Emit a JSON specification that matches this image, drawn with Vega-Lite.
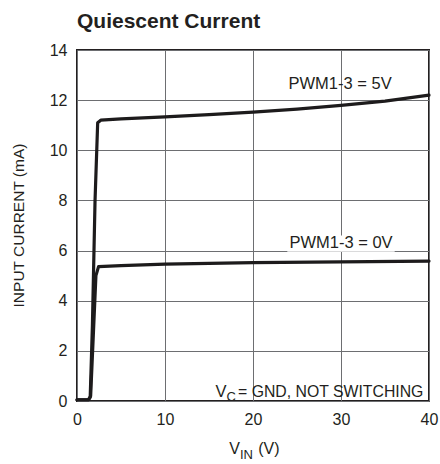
{
  "$schema": "https://vega.github.io/schema/vega-lite/v6.json",
  "width": 352,
  "height": 351,
  "autosize": {"type": "none"},
  "padding": {"left": 77, "top": 50, "right": 11, "bottom": 63},
  "background": "white",
  "title": {
    "text": "Quiescent Current",
    "anchor": "start",
    "frame": "group",
    "font": "Liberation Sans",
    "fontSize": 21,
    "fontWeight": "bold",
    "color": "#231f20",
    "offset": -7,
    "baseline": "alphabetic"
  },
  "config": {
    "view": {"stroke": "#231f20", "strokeWidth": 2},
    "font": "Liberation Sans"
  },
  "datasets": {
    "curves": [
      {"series": "5V", "vin": 0, "current": 0.05},
      {"series": "5V", "vin": 1.3, "current": 0.05},
      {"series": "5V", "vin": 1.5, "current": 0.15},
      {"series": "5V", "vin": 1.75, "current": 3.0},
      {"series": "5V", "vin": 2.05, "current": 8.0},
      {"series": "5V", "vin": 2.35, "current": 11.1},
      {"series": "5V", "vin": 2.7, "current": 11.2},
      {"series": "5V", "vin": 5, "current": 11.25},
      {"series": "5V", "vin": 10, "current": 11.33},
      {"series": "5V", "vin": 15, "current": 11.42},
      {"series": "5V", "vin": 20, "current": 11.52},
      {"series": "5V", "vin": 25, "current": 11.64},
      {"series": "5V", "vin": 30, "current": 11.79},
      {"series": "5V", "vin": 35, "current": 11.96},
      {"series": "5V", "vin": 40, "current": 12.2},
      {"series": "0V", "vin": 0, "current": 0.05},
      {"series": "0V", "vin": 1.3, "current": 0.05},
      {"series": "0V", "vin": 1.55, "current": 0.2},
      {"series": "0V", "vin": 2.15, "current": 5.0},
      {"series": "0V", "vin": 2.45, "current": 5.36},
      {"series": "0V", "vin": 5, "current": 5.4},
      {"series": "0V", "vin": 10, "current": 5.46},
      {"series": "0V", "vin": 20, "current": 5.52},
      {"series": "0V", "vin": 30, "current": 5.55},
      {"series": "0V", "vin": 40, "current": 5.58}
    ],
    "centerLabels": [
      {"text": "PWM1-3 = 5V", "x": 29.9, "y": 12.65, "size": 16.5},
      {"text": "PWM1-3 = 0V", "x": 30.0, "y": 6.29, "size": 16.5}
    ],
    "rightLabels": [
      {"text": "V", "x": 17.0, "y": 0.17, "size": 16.5},
      {"text": "V", "x": 18.52, "y": -2.11, "size": 16}
    ],
    "leftLabels": [
      {"text": "C", "x": 17.0, "y": 0.0, "size": 13},
      {"text": "= GND, NOT SWITCHING", "x": 18.3, "y": 0.17, "size": 15.8},
      {"text": "IN", "x": 18.52, "y": -2.33, "size": 13},
      {"text": "(V)", "x": 20.6, "y": -2.11, "size": 16}
    ],
    "masks": [
      {"x1": 23.9, "x2": 36.1, "y1": 5.95, "y2": 6.6}
    ]
  },
  "layer": [
    {
      "data": {"name": "masks"},
      "mark": {"type": "rect", "fill": "white"},
      "encoding": {
        "x": {"field": "x1", "type": "quantitative", "scale": {"domain": [0, 40], "nice": false}, "axis": {"values": [0, 10, 20, 30, 40], "grid": true, "gridColor": "#6d6e71", "gridWidth": 1, "gridOpacity": 1, "domain": false, "ticks": false, "labelFlush": false, "labelFont": "Liberation Sans", "labelFontSize": 16, "labelColor": "#231f20", "labelPadding": 10, "title": null}},
        "x2": {"field": "x2"},
        "y": {"field": "y1", "type": "quantitative", "scale": {"domain": [0, 14], "nice": false}, "axis": {"values": [0, 2, 4, 6, 8, 10, 12, 14], "grid": true, "gridColor": "#6d6e71", "gridWidth": 1, "gridOpacity": 1, "domain": false, "ticks": false, "labelFlush": false, "labelFont": "Liberation Sans", "labelFontSize": 16, "labelColor": "#231f20", "labelPadding": 10, "title": "INPUT CURRENT (mA)", "titleFont": "Liberation Sans", "titleFontSize": 15.5, "titleFontWeight": "normal", "titleColor": "#231f20", "titleX": -59, "titleY": 175, "titleBaseline": "middle", "titleAlign": "center", "titleAngle": -90}},
        "y2": {"field": "y2"}
      }
    },
    {
      "data": {"name": "curves"},
      "mark": {"type": "line", "stroke": "#1d1b1c", "strokeWidth": 3.2, "strokeJoin": "round", "strokeCap": "round"},
      "encoding": {
        "x": {"field": "vin", "type": "quantitative"},
        "y": {"field": "current", "type": "quantitative"},
        "detail": {"field": "series"}
      }
    },
    {
      "data": {"name": "centerLabels"},
      "mark": {"type": "text", "color": "#231f20", "align": "center", "baseline": "middle"},
      "encoding": {
        "x": {"field": "x", "type": "quantitative"},
        "y": {"field": "y", "type": "quantitative"},
        "text": {"field": "text"},
        "size": {"field": "size", "type": "quantitative", "scale": null}
      }
    },
    {
      "data": {"name": "rightLabels"},
      "mark": {"type": "text", "color": "#231f20", "align": "right", "baseline": "alphabetic"},
      "encoding": {
        "x": {"field": "x", "type": "quantitative"},
        "y": {"field": "y", "type": "quantitative"},
        "text": {"field": "text"},
        "size": {"field": "size", "type": "quantitative", "scale": null}
      }
    },
    {
      "data": {"name": "leftLabels"},
      "mark": {"type": "text", "color": "#231f20", "align": "left", "baseline": "alphabetic"},
      "encoding": {
        "x": {"field": "x", "type": "quantitative"},
        "y": {"field": "y", "type": "quantitative"},
        "text": {"field": "text"},
        "size": {"field": "size", "type": "quantitative", "scale": null}
      }
    }
  ]
}
